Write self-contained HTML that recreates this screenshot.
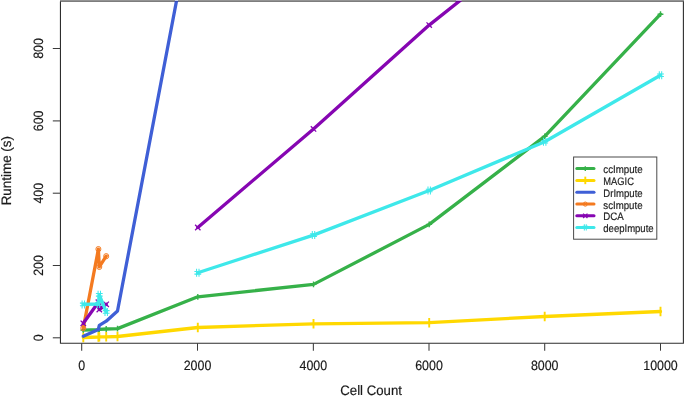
<!DOCTYPE html>
<html><head><meta charset="utf-8"><style>
html,body{margin:0;padding:0;background:#fff;}
body{width:685px;height:397px;overflow:hidden;}
svg{display:block;}
text{filter:grayscale(1);text-rendering:geometricPrecision;stroke:#1a1a1a;stroke-width:0.18px;}
.t{font-family:"Liberation Sans",sans-serif;font-size:13.5px;fill:#1a1a1a;}
.ti{font-family:"Liberation Sans",sans-serif;font-size:13.7px;fill:#1a1a1a;}
.lg{font-family:"Liberation Sans",sans-serif;font-size:10.8px;fill:#1a1a1a;}
</style></head><body>
<svg width="685" height="397" viewBox="0 0 685 397">
<defs><clipPath id="c"><rect x="60.45" y="1" width="622.9" height="342.3"/></clipPath></defs>
<rect x="60" y="0" width="624" height="1" fill="#939393"/><rect x="60" y="1" width="624" height="1" fill="#7d7d7d"/>
<g clip-path="url(#c)">
<path d="M83.30 330.10 L98.40 329.60 L99.30 329.30 L106.20 329.00 L117.50 328.60 L197.80 296.80 L313.50 284.40 L429.20 224.40 L544.70 136.40 L660.50 14.20" stroke="#36b149" stroke-width="3.3" fill="none" stroke-linecap="round" stroke-linejoin="round"/>
<path d="M80.40 330.10H86.20M83.30 327.20V333.00" stroke="#36b149" stroke-width="1.4" fill="none"/>
<path d="M95.50 329.60H101.30M98.40 326.70V332.50" stroke="#36b149" stroke-width="1.4" fill="none"/>
<path d="M96.40 329.30H102.20M99.30 326.40V332.20" stroke="#36b149" stroke-width="1.4" fill="none"/>
<path d="M103.30 329.00H109.10M106.20 326.10V331.90" stroke="#36b149" stroke-width="1.4" fill="none"/>
<path d="M114.60 328.60H120.40M117.50 325.70V331.50" stroke="#36b149" stroke-width="1.4" fill="none"/>
<path d="M194.90 296.80H200.70M197.80 293.90V299.70" stroke="#36b149" stroke-width="1.4" fill="none"/>
<path d="M310.60 284.40H316.40M313.50 281.50V287.30" stroke="#36b149" stroke-width="1.4" fill="none"/>
<path d="M426.30 224.40H432.10M429.20 221.50V227.30" stroke="#36b149" stroke-width="1.4" fill="none"/>
<path d="M541.80 136.40H547.60M544.70 133.50V139.30" stroke="#36b149" stroke-width="1.4" fill="none"/>
<path d="M657.60 14.20H663.40M660.50 11.30V17.10" stroke="#36b149" stroke-width="1.4" fill="none"/>
<path d="M83.30 337.50 L98.40 337.00 L99.30 336.90 L106.20 336.80 L117.50 336.50 L197.80 327.50 L313.50 323.80 L429.20 322.70 L544.70 316.50 L660.50 311.50" stroke="#ffd800" stroke-width="3.3" fill="none" stroke-linecap="round" stroke-linejoin="round"/>
<path d="M83.30 332.80V342.20" stroke="#ffd800" stroke-width="1.9" fill="none"/>
<path d="M98.40 332.30V341.70" stroke="#ffd800" stroke-width="1.9" fill="none"/>
<path d="M99.30 332.20V341.60" stroke="#ffd800" stroke-width="1.9" fill="none"/>
<path d="M106.20 332.10V341.50" stroke="#ffd800" stroke-width="1.9" fill="none"/>
<path d="M117.50 331.80V341.20" stroke="#ffd800" stroke-width="1.9" fill="none"/>
<path d="M197.80 322.80V332.20" stroke="#ffd800" stroke-width="1.9" fill="none"/>
<path d="M313.50 319.10V328.50" stroke="#ffd800" stroke-width="1.9" fill="none"/>
<path d="M429.20 318.00V327.40" stroke="#ffd800" stroke-width="1.9" fill="none"/>
<path d="M544.70 311.80V321.20" stroke="#ffd800" stroke-width="1.9" fill="none"/>
<path d="M660.50 306.80V316.20" stroke="#ffd800" stroke-width="1.9" fill="none"/>
<path d="M83.30 336.20 L98.40 329.60 L99.30 325.30 L106.20 321.20 L117.50 311.00 L197.80 -111.00" stroke="#3f5fd6" stroke-width="3.3" fill="none" stroke-linecap="round" stroke-linejoin="round"/>
<path d="M83.30 328.10 L98.40 249.10 L99.30 266.90 L106.20 256.20" stroke="#f47a20" stroke-width="3.3" fill="none" stroke-linecap="round" stroke-linejoin="round"/>
<ellipse cx="83.30" cy="328.10" rx="2.50" ry="2.60" stroke="#f47a20" stroke-width="1.0" fill="none"/>
<ellipse cx="98.40" cy="249.10" rx="2.50" ry="2.60" stroke="#f47a20" stroke-width="1.0" fill="none"/>
<ellipse cx="99.30" cy="266.90" rx="2.50" ry="2.60" stroke="#f47a20" stroke-width="1.0" fill="none"/>
<ellipse cx="106.20" cy="256.20" rx="2.50" ry="2.60" stroke="#f47a20" stroke-width="1.0" fill="none"/>
<path d="M83.30 323.30 L98.40 302.20 L99.30 309.60 L106.20 304.30" stroke="#8606b2" stroke-width="3.3" fill="none" stroke-linecap="round" stroke-linejoin="round"/>
<path d="M197.80 227.50 L313.50 128.90 L429.20 25.10 L544.70 -66.70" stroke="#8606b2" stroke-width="3.3" fill="none" stroke-linecap="round" stroke-linejoin="round"/>
<path d="M80.60 320.60L86.00 326.00M80.60 326.00L86.00 320.60" stroke="#8606b2" stroke-width="1.3" fill="none"/>
<path d="M95.70 299.50L101.10 304.90M95.70 304.90L101.10 299.50" stroke="#8606b2" stroke-width="1.3" fill="none"/>
<path d="M96.60 306.90L102.00 312.30M96.60 312.30L102.00 306.90" stroke="#8606b2" stroke-width="1.3" fill="none"/>
<path d="M103.50 301.60L108.90 307.00M103.50 307.00L108.90 301.60" stroke="#8606b2" stroke-width="1.3" fill="none"/>
<path d="M195.10 224.80L200.50 230.20M195.10 230.20L200.50 224.80" stroke="#8606b2" stroke-width="1.3" fill="none"/>
<path d="M310.80 126.20L316.20 131.60M310.80 131.60L316.20 126.20" stroke="#8606b2" stroke-width="1.3" fill="none"/>
<path d="M426.50 22.40L431.90 27.80M426.50 27.80L431.90 22.40" stroke="#8606b2" stroke-width="1.3" fill="none"/>
<path d="M83.30 304.40 L98.40 304.00 L99.30 294.80 L106.20 311.90" stroke="#3ee8ea" stroke-width="3.3" fill="none" stroke-linecap="round" stroke-linejoin="round"/>
<path d="M197.80 272.80 L313.50 235.10 L429.20 190.50 L544.70 141.70 L660.50 75.20" stroke="#3ee8ea" stroke-width="3.3" fill="none" stroke-linecap="round" stroke-linejoin="round"/>
<path d="M82.10 300.40V308.40M84.50 300.40V308.40M79.90 303.10H86.70M79.90 305.70H86.70" stroke="#3ee8ea" stroke-width="1.05" fill="none"/>
<path d="M97.20 300.00V308.00M99.60 300.00V308.00M95.00 302.70H101.80M95.00 305.30H101.80" stroke="#3ee8ea" stroke-width="1.05" fill="none"/>
<path d="M98.10 290.80V298.80M100.50 290.80V298.80M95.90 293.50H102.70M95.90 296.10H102.70" stroke="#3ee8ea" stroke-width="1.05" fill="none"/>
<path d="M105.00 307.90V315.90M107.40 307.90V315.90M102.80 310.60H109.60M102.80 313.20H109.60" stroke="#3ee8ea" stroke-width="1.05" fill="none"/>
<path d="M196.60 268.80V276.80M199.00 268.80V276.80M194.40 271.50H201.20M194.40 274.10H201.20" stroke="#3ee8ea" stroke-width="1.05" fill="none"/>
<path d="M312.30 231.10V239.10M314.70 231.10V239.10M310.10 233.80H316.90M310.10 236.40H316.90" stroke="#3ee8ea" stroke-width="1.05" fill="none"/>
<path d="M428.00 186.50V194.50M430.40 186.50V194.50M425.80 189.20H432.60M425.80 191.80H432.60" stroke="#3ee8ea" stroke-width="1.05" fill="none"/>
<path d="M543.50 137.70V145.70M545.90 137.70V145.70M541.30 140.40H548.10M541.30 143.00H548.10" stroke="#3ee8ea" stroke-width="1.05" fill="none"/>
<path d="M659.30 71.20V79.20M661.70 71.20V79.20M657.10 73.90H663.90M657.10 76.50H663.90" stroke="#3ee8ea" stroke-width="1.05" fill="none"/>
</g>
<path d="M60.45 1.5V343.3H683.4V1.5" stroke="#2e2e2e" stroke-width="1.1" fill="none"/>
<rect x="175" y="0" width="3" height="1" fill="#c5cbe3"/><rect x="174.8" y="1" width="3.4" height="1" fill="#3349b5"/>
<rect x="456" y="0" width="5.5" height="1" fill="#c6a9d6"/><rect x="455.8" y="1" width="5.4" height="1" fill="#6c0596"/>
<path d="M81.70 343.3V350.7" stroke="#3a3a3a" stroke-width="1.05" fill="none"/>
<text transform="translate(81.70 369.7) scale(0.92 1)" text-anchor="middle" class="t">0</text>
<path d="M197.50 343.3V350.7" stroke="#3a3a3a" stroke-width="1.05" fill="none"/>
<text transform="translate(197.50 369.7) scale(0.92 1)" text-anchor="middle" class="t">2000</text>
<path d="M313.35 343.3V350.7" stroke="#3a3a3a" stroke-width="1.05" fill="none"/>
<text transform="translate(313.35 369.7) scale(0.92 1)" text-anchor="middle" class="t">4000</text>
<path d="M429.00 343.3V350.7" stroke="#3a3a3a" stroke-width="1.05" fill="none"/>
<text transform="translate(429.00 369.7) scale(0.92 1)" text-anchor="middle" class="t">6000</text>
<path d="M544.70 343.3V350.7" stroke="#3a3a3a" stroke-width="1.05" fill="none"/>
<text transform="translate(544.70 369.7) scale(0.92 1)" text-anchor="middle" class="t">8000</text>
<path d="M660.50 343.3V350.7" stroke="#3a3a3a" stroke-width="1.05" fill="none"/>
<text transform="translate(660.50 369.7) scale(0.92 1)" text-anchor="middle" class="t">10000</text>
<path d="M52.8 337.80H60.45" stroke="#3a3a3a" stroke-width="1.05" fill="none"/>
<text transform="translate(43.2 337.80) rotate(-90) scale(0.92 1)" text-anchor="middle" class="t">0</text>
<path d="M52.8 265.50H60.45" stroke="#3a3a3a" stroke-width="1.05" fill="none"/>
<text transform="translate(43.2 265.50) rotate(-90) scale(0.92 1)" text-anchor="middle" class="t">200</text>
<path d="M52.8 193.20H60.45" stroke="#3a3a3a" stroke-width="1.05" fill="none"/>
<text transform="translate(43.2 193.20) rotate(-90) scale(0.92 1)" text-anchor="middle" class="t">400</text>
<path d="M52.8 120.90H60.45" stroke="#3a3a3a" stroke-width="1.05" fill="none"/>
<text transform="translate(43.2 120.90) rotate(-90) scale(0.92 1)" text-anchor="middle" class="t">600</text>
<path d="M52.8 48.50H60.45" stroke="#3a3a3a" stroke-width="1.05" fill="none"/>
<text transform="translate(43.2 48.50) rotate(-90) scale(0.92 1)" text-anchor="middle" class="t">800</text>
<rect x="573.6" y="157.0" width="83.2" height="82.2" fill="#fff" stroke="#4a4a4a" stroke-width="1"/>
<path d="M576.8 168.6 H594" stroke="#36b149" stroke-width="3" stroke-linecap="round" fill="none"/>
<path d="M582.98 168.60H587.62M585.30 166.28V170.92" stroke="#36b149" stroke-width="1.4" fill="none"/>
<text transform="translate(603.3 173.20) scale(0.9 1)" class="lg">ccImpute</text>
<path d="M576.8 180.4 H594" stroke="#ffd800" stroke-width="3" stroke-linecap="round" fill="none"/>
<path d="M585.30 176.64V184.16" stroke="#ffd800" stroke-width="1.9" fill="none"/>
<text transform="translate(603.3 185.00) scale(0.865 1)" class="lg">MAGIC</text>
<path d="M576.8 192.3 H594" stroke="#3f5fd6" stroke-width="3" stroke-linecap="round" fill="none"/>
<text transform="translate(603.3 196.90) scale(0.885 1)" class="lg">DrImpute</text>
<path d="M576.8 204.1 H594" stroke="#f47a20" stroke-width="3" stroke-linecap="round" fill="none"/>
<ellipse cx="585.30" cy="204.10" rx="2.00" ry="2.08" stroke="#f47a20" stroke-width="1.0" fill="none"/>
<text transform="translate(603.3 208.70) scale(0.895 1)" class="lg">scImpute</text>
<path d="M576.8 215.8 H594" stroke="#8606b2" stroke-width="3" stroke-linecap="round" fill="none"/>
<path d="M583.14 213.64L587.46 217.96M583.14 217.96L587.46 213.64" stroke="#8606b2" stroke-width="1.3" fill="none"/>
<text transform="translate(603.3 220.40) scale(0.9 1)" class="lg">DCA</text>
<path d="M576.8 227.4 H594" stroke="#3ee8ea" stroke-width="3" stroke-linecap="round" fill="none"/>
<path d="M584.34 224.20V230.60M586.26 224.20V230.60M582.58 226.36H588.02M582.58 228.44H588.02" stroke="#3ee8ea" stroke-width="1.05" fill="none"/>
<text transform="translate(603.3 232.00) scale(0.882 1)" class="lg">deepImpute</text>
<text transform="translate(371.1 395.4) scale(0.965 1)" text-anchor="middle" class="ti">Cell Count</text>
<text transform="translate(11.4 170.7) rotate(-90) scale(0.98 1)" text-anchor="middle" class="ti">Runtime (s)</text>
</svg>
</body></html>
